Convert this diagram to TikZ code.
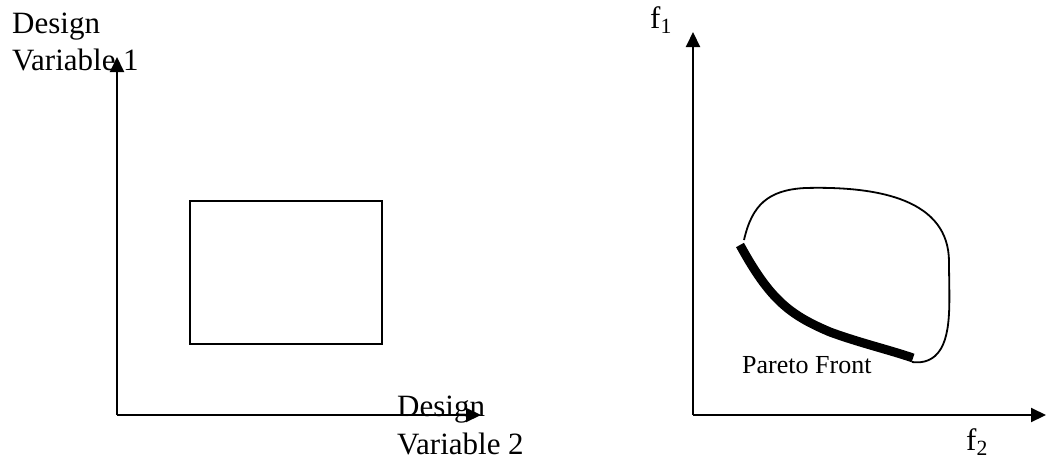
\documentclass[tikz,border=0pt]{standalone}
\usepackage{fontspec}
\setmainfont{Liberation Serif}
\usetikzlibrary{arrows.meta}
\begin{document}
\begin{tikzpicture}[x=1pt,y=-1pt,
  axis/.style={line width=2pt,-{Triangle[length=15pt,width=14pt]}},
  lbl/.style={anchor=base west,inner sep=0pt,font=\fontsize{31}{37}\selectfont},
  small/.style={anchor=base west,inner sep=0pt,font=\fontsize{26}{31}\selectfont}]
\useasboundingbox (0,0) rectangle (1048,461);
% left plot
\coordinate (o1) at (117,415);
\coordinate (y1) at (117,57);
\coordinate (x1) at (481,415);
\draw[axis] (o1) -- (y1);
\draw[axis] (o1) -- (x1);
\node[lbl] (d1a) at (12,33) {Design};
\node[lbl] (d1b) at (12,70) {Variable 1};
\node[lbl] (d2a) at (397,416) {Design};
\node[lbl] (d2b) at (397,454) {Variable 2};
\node[draw,line width=1.6pt,minimum width=192pt,minimum height=143pt,inner sep=0pt,anchor=north west] (box) at (189,200) {};
% right plot
\coordinate (o2) at (693,415);
\coordinate (y2) at (693,32);
\coordinate (x2) at (1046,415);
\draw[axis] (o2) -- (y2);
\draw[axis] (o2) -- (x2);
\node[lbl] (f1) at (650,28) {f\textsubscript{1}};
\node[lbl] (f2) at (966,450) {f\textsubscript{2}};
\draw[line width=1.8pt] (744,240) .. controls (752,205) and (768,190) .. (805,188)
  .. controls (880,186) and (949,200) .. (949,262)
  .. controls (949,300) and (953,340) .. (935,356)
  .. controls (928,362) and (920,363) .. (912,362);
\draw[line width=9pt] (740,245) .. controls (770,300) and (790,315) .. (830,332)
  .. controls (860,343) and (890,350) .. (913,358);
\node[small] (pf) at (742,373) {Pareto Front};
\end{tikzpicture}
\end{document}
